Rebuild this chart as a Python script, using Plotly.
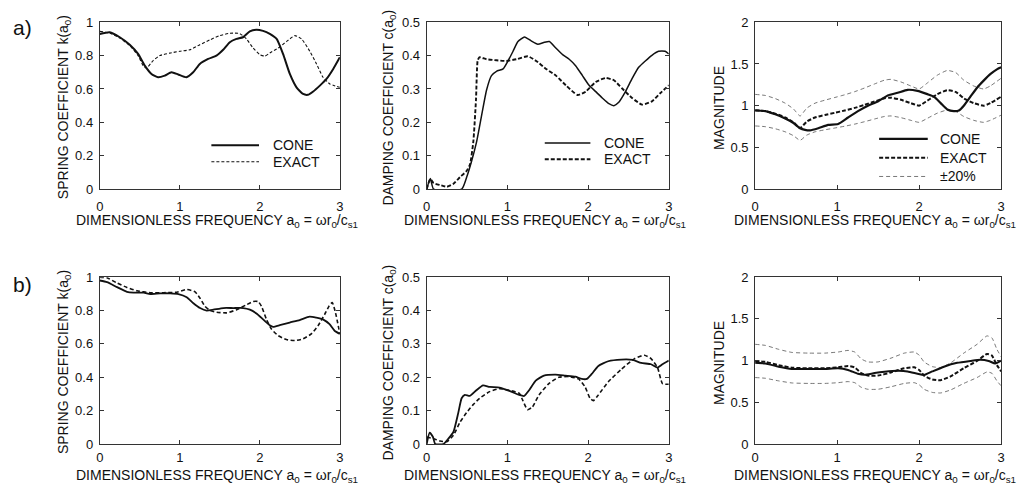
import plotly.graph_objects as go

W, H = 1028, 501

# ---------------- data: spring / damping coefficients and magnitudes ----------------
# case a)
a1_cone_x = [0, 0.125, 0.25, 0.375, 0.479, 0.5625, 0.646, 0.729, 0.8125, 0.896, 0.979, 1.083, 1.167, 1.25,
             1.354, 1.458, 1.542, 1.625, 1.708, 1.79, 1.875, 1.958, 2.04, 2.125, 2.21, 2.29, 2.375, 2.458,
             2.54, 2.60, 2.667, 2.75, 2.833, 2.917, 3.0]
a1_cone_y = [0.93, 0.94, 0.91, 0.865, 0.81, 0.74, 0.69, 0.67, 0.68, 0.70, 0.687, 0.67, 0.70, 0.75,
             0.78, 0.80, 0.835, 0.88, 0.90, 0.91, 0.945, 0.955, 0.948, 0.93, 0.90, 0.81, 0.69, 0.61,
             0.57, 0.565, 0.585, 0.62, 0.66, 0.72, 0.79]
a1_exact_x = [0, 0.125, 0.25, 0.375, 0.479, 0.542, 0.583, 0.667, 0.75, 0.875, 1.0, 1.125, 1.25, 1.375,
              1.5, 1.625, 1.75, 1.833, 1.917, 2.0, 2.0625, 2.125, 2.229, 2.333, 2.4375, 2.521, 2.625,
              2.708, 2.79, 2.875, 3.0]
a1_exact_y = [0.945, 0.935, 0.905, 0.86, 0.80, 0.74, 0.725, 0.77, 0.80, 0.815, 0.826, 0.835, 0.865, 0.894,
              0.92, 0.934, 0.932, 0.90, 0.845, 0.806, 0.797, 0.816, 0.845, 0.884, 0.92, 0.90, 0.826,
              0.75, 0.67, 0.63, 0.61]

a2_cone_x = [0, 0.045, 0.085, 0.434, 0.496, 0.557, 0.619, 0.68, 0.742, 0.803, 0.865, 0.947, 1.008, 1.07,
             1.131, 1.213, 1.295, 1.377, 1.459, 1.52, 1.60, 1.684, 1.766, 1.848, 1.93, 2.012, 2.094,
             2.176, 2.258, 2.32, 2.38, 2.463, 2.545, 2.627, 2.709, 2.791, 2.873, 2.955, 3.0]
a2_cone_y = [0, 0.032, 0, 0, 0.036, 0.084, 0.142, 0.22, 0.297, 0.34, 0.353, 0.36, 0.384, 0.413,
             0.442, 0.456, 0.444, 0.434, 0.44, 0.442, 0.423, 0.403, 0.389, 0.369, 0.34, 0.311, 0.292,
             0.273, 0.256, 0.25, 0.26, 0.292, 0.331, 0.365, 0.384, 0.401, 0.413, 0.413, 0.405]
a2_exact_x = [0, 0.045, 0.086, 0.168, 0.25, 0.332, 0.414, 0.496, 0.537, 0.578, 0.611, 0.631, 0.652,
              0.742, 0.865, 0.988, 1.111, 1.254, 1.357, 1.48, 1.602, 1.725, 1.869, 1.971, 2.094, 2.217,
              2.32, 2.42, 2.545, 2.668, 2.791, 2.893, 3.0]
a2_exact_y = [0, 0.03, 0.018, 0.012, 0.007, 0.016, 0.036, 0.055, 0.074, 0.142, 0.268, 0.384, 0.395,
              0.389, 0.386, 0.384, 0.389, 0.398, 0.384, 0.36, 0.34, 0.311, 0.282, 0.292, 0.321, 0.333,
              0.326, 0.302, 0.273, 0.253, 0.263, 0.287, 0.311]

a3_cone_x = [0, 0.125, 0.246, 0.367, 0.468, 0.548, 0.609, 0.669, 0.77, 0.891, 1.012, 1.133, 1.254, 1.375,
             1.496, 1.617, 1.738, 1.859, 1.98, 2.10, 2.18, 2.262, 2.343, 2.423, 2.484, 2.544, 2.625,
             2.706, 2.786, 2.867, 2.948, 3.0]
a3_cone_y = [0.942, 0.935, 0.896, 0.846, 0.792, 0.73, 0.71, 0.704, 0.73, 0.77, 0.78, 0.858, 0.935, 1.0,
             1.05, 1.123, 1.154, 1.19, 1.177, 1.138, 1.108, 1.03, 0.954, 0.935, 0.942, 1.0, 1.108,
             1.215, 1.30, 1.377, 1.435, 1.46]
a3_exact_x = [0, 0.125, 0.246, 0.367, 0.468, 0.548, 0.629, 0.73, 0.851, 0.972, 1.093, 1.214, 1.335,
              1.456, 1.577, 1.657, 1.778, 1.899, 2.0, 2.10, 2.222, 2.343, 2.444, 2.544, 2.665, 2.786,
              2.867, 3.0]
a3_exact_y = [0.946, 0.935, 0.904, 0.858, 0.80, 0.73, 0.808, 0.858, 0.888, 0.915, 0.942, 0.973, 1.01,
              1.05, 1.088, 1.096, 1.07, 1.03, 1.0, 1.06, 1.138, 1.185, 1.165, 1.088, 1.03, 1.0,
              1.03, 1.108]

# case b)
b1_cone_x = [0, 0.091, 0.216, 0.34, 0.423, 0.548, 0.631, 0.755, 0.88, 0.983, 1.087, 1.17, 1.253, 1.336,
             1.419, 1.544, 1.668, 1.793, 1.876, 1.958, 2.041, 2.124, 2.166, 2.249, 2.373, 2.498, 2.622,
             2.705, 2.788, 2.871, 2.934, 3.0]
b1_cone_y = [0.98, 0.97, 0.94, 0.912, 0.907, 0.907, 0.899, 0.903, 0.903, 0.899, 0.88, 0.844, 0.815, 0.80,
             0.805, 0.815, 0.815, 0.815, 0.805, 0.782, 0.747, 0.712, 0.702, 0.712, 0.728, 0.743, 0.763,
             0.757, 0.747, 0.718, 0.679, 0.66]
b1_exact_x = [0, 0.091, 0.216, 0.34, 0.465, 0.631, 0.797, 0.963, 1.087, 1.191, 1.253, 1.315, 1.378,
              1.461, 1.585, 1.71, 1.834, 1.917, 1.979, 2.021, 2.083, 2.145, 2.228, 2.332, 2.436, 2.539,
              2.643, 2.726, 2.809, 2.863, 2.905, 2.946, 3.0]
b1_exact_y = [1.0, 0.996, 0.965, 0.938, 0.918, 0.907, 0.907, 0.91, 0.926, 0.912, 0.874, 0.825, 0.80,
              0.79, 0.786, 0.805, 0.835, 0.854, 0.854, 0.825, 0.747, 0.689, 0.65, 0.626, 0.62, 0.63,
              0.66, 0.708, 0.776, 0.825, 0.848, 0.786, 0.66]

b2_cone_x = [0, 0.037, 0.078, 0.106, 0.208, 0.269, 0.331, 0.392, 0.433, 0.473, 0.535, 0.616, 0.698, 0.78,
             0.902, 1.024, 1.147, 1.208, 1.269, 1.351, 1.453, 1.596, 1.718, 1.841, 1.922, 1.984, 2.045,
             2.127, 2.249, 2.412, 2.555, 2.657, 2.78, 2.861, 2.922, 3.0]
b2_cone_y = [0, 0.034, 0.021, 0, 0, 0.016, 0.036, 0.094, 0.137, 0.147, 0.144, 0.161, 0.176, 0.171,
             0.169, 0.159, 0.147, 0.144, 0.161, 0.19, 0.205, 0.208, 0.205, 0.202, 0.195, 0.195, 0.21,
             0.234, 0.248, 0.253, 0.252, 0.243, 0.239, 0.229, 0.239, 0.25]
b2_exact_x = [0, 0.086, 0.167, 0.249, 0.331, 0.412, 0.494, 0.576, 0.657, 0.78, 0.902, 1.024, 1.147,
              1.188, 1.249, 1.31, 1.392, 1.514, 1.637, 1.759, 1.882, 1.963, 2.024, 2.065, 2.127, 2.249,
              2.412, 2.576, 2.698, 2.78, 2.861, 2.922, 3.0]
b2_exact_y = [0.021, 0.016, 0.009, 0.007, 0.026, 0.065, 0.094, 0.118, 0.137, 0.157, 0.166, 0.161, 0.152,
              0.132, 0.103, 0.111, 0.147, 0.181, 0.20, 0.202, 0.195, 0.171, 0.137, 0.13, 0.147, 0.186,
              0.224, 0.256, 0.266, 0.256, 0.229, 0.181, 0.179]

b3_cone_x = [0, 0.125, 0.286, 0.448, 0.649, 0.851, 1.012, 1.133, 1.254, 1.335, 1.456, 1.577, 1.738,
             1.859, 1.98, 2.06, 2.161, 2.302, 2.464, 2.625, 2.746, 2.847, 2.927, 3.0]
b3_cone_y = [0.973, 0.965, 0.927, 0.90, 0.90, 0.90, 0.908, 0.888, 0.842, 0.83, 0.85, 0.865, 0.877,
             0.87, 0.842, 0.827, 0.87, 0.927, 0.973, 0.996, 1.01, 0.996, 0.965, 1.0]
b3_exact_x = [0, 0.125, 0.286, 0.448, 0.649, 0.851, 1.012, 1.133, 1.214, 1.294, 1.375, 1.496, 1.657,
              1.819, 1.94, 2.0, 2.06, 2.161, 2.262, 2.383, 2.544, 2.706, 2.827, 2.887, 2.948, 3.0]
b3_exact_y = [0.996, 0.985, 0.946, 0.915, 0.908, 0.908, 0.919, 0.935, 0.919, 0.85, 0.82, 0.82, 0.858,
              0.908, 0.919, 0.888, 0.82, 0.773, 0.765, 0.81, 0.908, 0.996, 1.08, 1.06, 0.946, 0.87]

# tolerance band around the exact magnitude
band = 0.20

x_ticks = [0, 1, 2, 3]
x_title = "DIMENSIONLESS FREQUENCY a<sub>0</sub> = ωr<sub>0</sub>/c<sub>s1</sub>"
y_titles = ["SPRING COEFFICIENT k(a<sub>0</sub>)", "DAMPING COEFFICIENT c(a<sub>0</sub>)", "MAGNITUDE"]
row_labels = ["a)", "b)"]

FONT = "Liberation Sans, Arial, Helvetica, sans-serif"
INK = "#111111"

# ---------------- layout geometry (pixels) ----------------
cols = [(96.5, 338.5), (426, 670), (757, 1005)]
rows = [(15.7, 187.7), (278.5, 450.5)]
row_tick_standoff = [5, 1]
row_title_offset = [33, 32.5]
y_ranges = [1.0, 0.5, 2.0]
y_dticks = [0.2, 0.1, 0.5]
ytitle_x = [60, 388, 720]


def fx(p):
    return p / W


def fy(p):
    return 1 - p / H


fig = go.Figure()
layout = dict(
    width=W, height=H, margin=dict(l=0, r=0, t=0, b=0),
    paper_bgcolor="white", plot_bgcolor="white", showlegend=False,
    font=dict(family=FONT, color=INK, size=13),
)
annotations = []
shapes = []

panels = [
    # (row, col, cone, exact, exact style, cone width, with band)
    (0, 0, (a1_cone_x, a1_cone_y), (a1_exact_x, a1_exact_y), dict(width=1.1, dash="3px,2px"), 2.0, False),
    (0, 1, (a2_cone_x, a2_cone_y), (a2_exact_x, a2_exact_y), dict(width=1.9, dash="4px,2px"), 1.5, False),
    (0, 2, (a3_cone_x, a3_cone_y), (a3_exact_x, a3_exact_y), dict(width=2.0, dash="4px,2px"), 2.2, True),
    (1, 0, (b1_cone_x, b1_cone_y), (b1_exact_x, b1_exact_y), dict(width=1.6, dash="4px,2.5px"), 1.8, False),
    (1, 1, (b2_cone_x, b2_cone_y), (b2_exact_x, b2_exact_y), dict(width=1.6, dash="4px,2.5px"), 1.8, False),
    (1, 2, (b3_cone_x, b3_cone_y), (b3_exact_x, b3_exact_y), dict(width=2.0, dash="4px,2px"), 2.0, True),
]

for k, (r, c, cone, exact, ex_style, cone_w, with_band) in enumerate(panels):
    idx = k + 1
    xa = "x" if idx == 1 else f"x{idx}"
    ya = "y" if idx == 1 else f"y{idx}"
    x0, x1 = cols[c]
    y0, y1 = rows[r]
    axis_common = dict(
        showline=True, linecolor="#333333", linewidth=1, mirror="allticks",
        ticks="inside", ticklen=4, tickwidth=1, tickcolor="#333333",
        showgrid=False, zeroline=False, tickfont=dict(size=13, family=FONT, color=INK),
    )
    layout["xaxis" if idx == 1 else f"xaxis{idx}"] = dict(
        domain=[fx(x0), fx(x1)], range=[0, 3], tickvals=x_ticks,
        anchor=ya, ticklabelstandoff=row_tick_standoff[r], **axis_common)
    layout["yaxis" if idx == 1 else f"yaxis{idx}"] = dict(
        domain=[fy(y1), fy(y0)], range=[0, y_ranges[c]], dtick=y_dticks[c], tick0=0,
        anchor=xa, ticklabelstandoff=3, **axis_common)

    if with_band:
        for sgn in (1, -1):
            fig.add_trace(go.Scatter(
                x=exact[0], y=[v * (1 + sgn * band) for v in exact[1]], xaxis=xa, yaxis=ya,
                mode="lines", line=dict(color="#555555", width=0.8, dash="4px,3px",
                                        shape="spline", smoothing=0.5),
                name="±20%"))
    fig.add_trace(go.Scatter(
        x=exact[0], y=exact[1], xaxis=xa, yaxis=ya, mode="lines",
        line=dict(color=INK, shape="spline", smoothing=0.5, **ex_style), name="EXACT"))
    fig.add_trace(go.Scatter(
        x=cone[0], y=cone[1], xaxis=xa, yaxis=ya, mode="lines",
        line=dict(color=INK, width=cone_w, shape="spline", smoothing=0.5), name="CONE"))

    # axis titles
    annotations.append(dict(
        text=x_title, xref="paper", yref="paper", x=fx((x0 + x1) / 2 - 3),
        y=fy(y1 + row_title_offset[r]),
        xanchor="center", yanchor="middle", showarrow=False,
        font=dict(size=14, family=FONT, color=INK)))
    annotations.append(dict(
        text=y_titles[c], xref="paper", yref="paper", x=fx(ytitle_x[c]), y=fy((y0 + y1) / 2 + 2),
        xanchor="center", yanchor="middle", textangle=-90, showarrow=False,
        font=dict(size=14, family=FONT, color=INK)))

# row labels
for r, lab in enumerate(row_labels):
    annotations.append(dict(
        text=lab, xref="paper", yref="paper", x=fx(19), y=fy(rows[r][0] + 5 + (3 if r else 0)),
        xanchor="center", yanchor="middle", showarrow=False,
        font=dict(size=21, family=FONT, color=INK)))

# legend boxes for the top row
legend_rows = [
    # (line x0, x1, text x, [(y, label, style)])
    (209, 257, 269, [(142.5, "CONE", dict(width=2.0)),
                     (159.5, "EXACT", dict(width=1.1, dash="3px,2px"))]),
    (545, 591, 603, [(140.3, "CONE", dict(width=1.5)),
                     (157.0, "EXACT", dict(width=1.9, dash="4px,2px"))]),
    (882, 931, 941, [(136.0, "CONE", dict(width=2.2)),
                     (155.3, "EXACT", dict(width=2.0, dash="4px,2px")),
                     (174.7, "±20%", dict(width=0.8, dash="4px,3px", color="#555555"))]),
]
for lx0, lx1, tx, items in legend_rows:
    for yy, lab, st in items:
        st = dict(st)
        col = st.pop("color", INK)
        shapes.append(dict(type="line", xref="paper", yref="paper",
                           x0=fx(lx0), x1=fx(lx1), y0=fy(yy), y1=fy(yy),
                           line=dict(color=col, **st)))
        annotations.append(dict(
            text=lab, xref="paper", yref="paper", x=fx(tx), y=fy(yy),
            xanchor="left", yanchor="middle", showarrow=False,
            font=dict(size=14, family=FONT, color=INK)))

layout["annotations"] = annotations
layout["shapes"] = shapes
fig.update_layout(**layout)
fig.write_html("out.html")
